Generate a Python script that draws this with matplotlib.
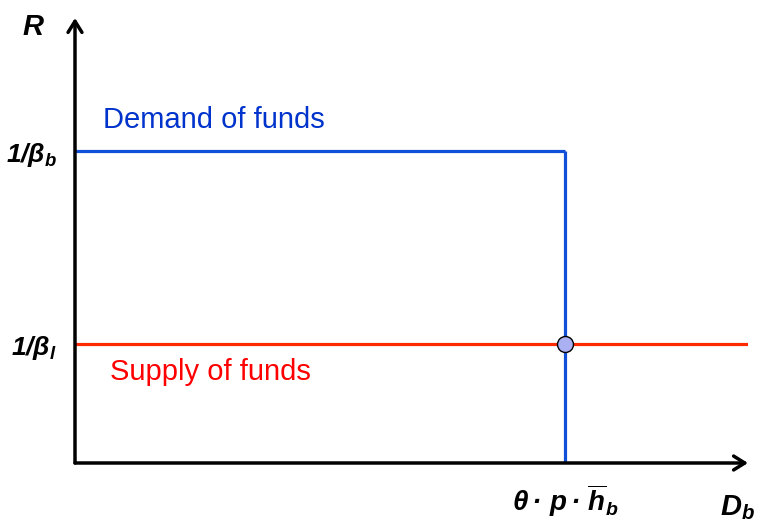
import matplotlib
matplotlib.use("Agg")
import matplotlib.pyplot as plt

plt.rcParams['font.family'] = ['Liberation Sans', 'DejaVu Sans']
plt.rcParams['mathtext.fontset'] = 'custom'
plt.rcParams['mathtext.rm'] = 'Liberation Sans:bold:italic'
plt.rcParams['mathtext.it'] = 'Liberation Sans:bold:italic'
plt.rcParams['mathtext.bf'] = 'Liberation Sans:bold:italic'

# Data (normalized units)
x_max = 1.0
y_max = 1.0
credit_limit = 0.728          # theta * p * h_b
rate_demand = 0.701           # 1/beta_b
rate_supply = 0.267           # 1/beta_l
ytick_labels = [r"$1/\beta_l$", r"$1/\beta_b$"]
xtick_label = r"$\theta\bullet\, p\bullet\, \overline{h}_b$"
demand_label = "Demand of funds"
supply_label = "Supply of funds"

fig = plt.figure(figsize=(7.64, 5.24), dpi=100)
ax = fig.add_axes([75/764, 61/524, 673/764, 445/524])
ax.set_xlim(0, x_max)
ax.set_ylim(0, y_max)
for s in ax.spines.values():
    s.set_visible(False)

blue = '#1050D8'
red = '#FF2A00'

# demand curve
ax.plot([0, credit_limit], [rate_demand, rate_demand], color=blue, lw=2.3, solid_capstyle='butt', zorder=3)
ax.plot([credit_limit, credit_limit], [0, rate_demand], color=blue, lw=2.3, solid_capstyle='butt', zorder=3)
# supply curve
ax.plot([0, x_max], [rate_supply, rate_supply], color=red, lw=2.3, solid_capstyle='butt', zorder=2)
# equilibrium
ax.plot([credit_limit], [rate_supply], 'o', ms=11.5, mfc='#AAB0F2', mec='black', mew=1.0, zorder=5, clip_on=False)

# axes arrows
arrow_kw = dict(arrowstyle='->,head_length=0.8,head_width=0.5', lw=2.5, color='black', shrinkA=0, shrinkB=0)
ax.annotate('', xy=(0, y_max), xytext=(0, 0), arrowprops=arrow_kw, annotation_clip=False, zorder=4)
ax.annotate('', xy=(x_max, 0), xytext=(0, 0), arrowprops=arrow_kw, annotation_clip=False, zorder=4)

ax.set_yticks([rate_supply, rate_demand])
ax.set_yticklabels(ytick_labels, fontsize=19)
ax.set_xticks([credit_limit])
ax.set_xticklabels([xtick_label], fontsize=20)
ax.tick_params(axis='y', length=0, pad=13)
ax.tick_params(axis='x', length=0, pad=14)
for lbl in ax.get_xticklabels():
    lbl.set_x(lbl.get_position()[0])

ax.text(-0.062, 0.98, 'R', transform=ax.transAxes, fontsize=21, fontweight='bold', style='italic', ha='center', va='center')
ax.text(0.985, -0.1, r"$D_b$", transform=ax.transAxes, fontsize=21, ha='center', va='center')

ax.text(0.042, 0.771, demand_label, color='#0033CC', fontsize=21, ha='left', va='center')
ax.text(0.052, 0.204, supply_label, color='#FF0000', fontsize=21, ha='left', va='center')

fig.savefig('out.png', dpi=100)
